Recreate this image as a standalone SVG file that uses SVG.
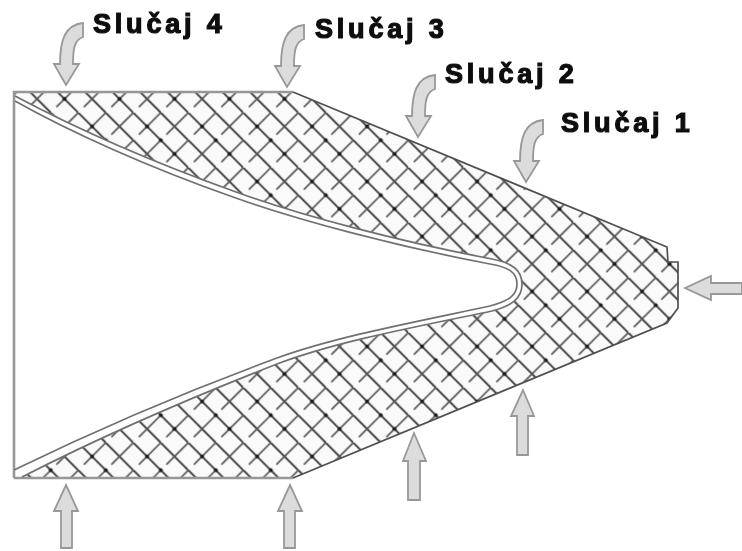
<svg xmlns="http://www.w3.org/2000/svg" xmlns:xlink="http://www.w3.org/1999/xlink" width="742" height="551" viewBox="0 0 742 551">
<style>
.arr{fill:#dcdcdc;stroke:#989898;stroke-width:1.8;stroke-linejoin:miter}
.lbl{font-family:"Liberation Sans",Arial,sans-serif;font-weight:bold;font-size:27px;letter-spacing:3.8px;fill:#111;stroke:#111;stroke-width:1.2}
.liner{fill:none;stroke:#707070;stroke-width:1.7}
.edge{fill:none;stroke:#979797;stroke-width:2.6}
.slant{fill:none;stroke:#505050;stroke-width:1.7}
</style>
<defs>
<filter id="soft" x="-5%" y="-5%" width="110%" height="110%"><feGaussianBlur stdDeviation="0.6"/></filter>
<pattern id="hatch" patternUnits="userSpaceOnUse" width="55" height="55" patternTransform="translate(133.3 112.7)">
<g fill="none" stroke="#3a3a3a" stroke-width="1.9">
<path d="M0 0L55 55M27.5 0L55 27.5M0 27.5L27.5 55"/>
<path stroke="#555" stroke-width="1.7" stroke-dasharray="31 7.89" d="M55 0L0 55M27.5 0L0 27.5M55 27.5L27.5 55"/>
</g>
<g fill="#1c1c1c"><circle cx="13.75" cy="13.75" r="2"/><circle cx="41.25" cy="41.25" r="2"/><circle cx="27.5" cy="27.5" r="2"/></g>
</pattern>
<clipPath id="wall"><path d="M14 92L293 92L667 247L668 262L678 262L678 308L667 323L293 478L22 477C100 437 190 398 277 364C335 342 410 328 492 311C512 306 522 298 522 284C522 270 512 263 492 259C402 242 302 216 236 192C155 163 75 128 15 96Z"/></clipPath>
<path id="bent" d="M60 64C60 40 65 25 83 23L83 37C74 40 73 50 73 64L79 64L66 85L54 64Z"/>
</defs>
<rect width="742" height="551" fill="#fff"/>
<g filter="url(#soft)">
<g id="body">
<path d="M14 92L293 92L667 247L668 262L678 262L678 308L667 323L293 478L22 477C100 437 190 398 277 364C335 342 410 328 492 311C512 306 522 298 522 284C522 270 512 263 492 259C402 242 302 216 236 192C155 163 75 128 15 96Z" fill="#fafafa"/>
<rect x="0" y="80" width="700" height="410" fill="url(#hatch)" clip-path="url(#wall)"/>
<path class="edge" d="M14 478L14 92L293 92M14 478L293 478"/>
<path class="slant" d="M293 92L667 247L668 262L678 262L678 308L667 323L293 478"/>
<path class="liner" d="M15 101C70 132 150 168 233 197C300 221 400 247 490 264C508 267 517 272 517 284C517 296 508 301 490 306C410 323 335 337 277 358C190 390 100 428 14 470"/>
<path class="liner" d="M15 96C75 128 155 163 236 192C302 216 402 242 492 259C512 263 522 270 522 284C522 298 512 306 492 311C410 328 335 342 277 364C190 398 100 437 22 477"/>
</g>
<g id="connectors">
<use xlink:href="#bent" href="#bent" class="arr"/>
<use xlink:href="#bent" href="#bent" class="arr" x="221" y="2"/>
<use xlink:href="#bent" href="#bent" class="arr" x="352" y="52"/>
<use xlink:href="#bent" href="#bent" class="arr" x="460" y="97"/>
<path class="arr" d="M66 485L78 511L72 511L72 548L61 548L61 511L54 511Z"/>
<path class="arr" d="M290 485L302 511L295 511L295 548L284 548L284 511L278 511Z"/>
<path class="arr" d="M414 433L426 461L420 461L420 500L408 500L408 461L403 461Z"/>
<path class="arr" d="M523 390L534 416L528 416L528 455L517 455L517 416L511 416Z"/>
<path class="arr" d="M685 288L711 276L711 283L742 283L742 294L711 294L711 300Z"/>
</g>
<g id="labels">
<text class="lbl" x="93" y="33">Slučaj 4</text>
<text class="lbl" x="315" y="38">Slučaj 3</text>
<text class="lbl" x="445" y="83">Slučaj 2</text>
<text class="lbl" x="561" y="132">Slučaj 1</text>
</g>
</g>
</svg>
